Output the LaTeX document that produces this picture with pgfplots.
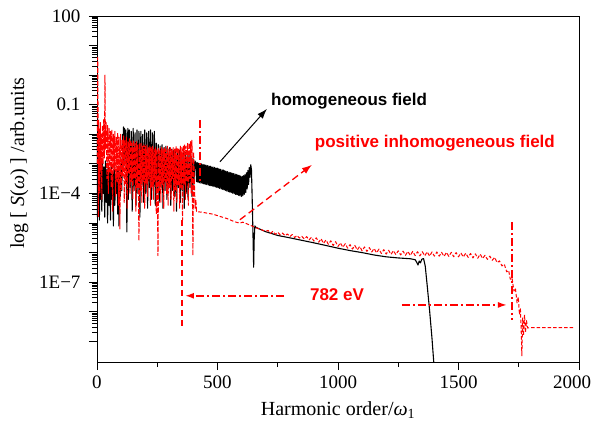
\documentclass[border=0pt]{standalone}
\usepackage{fontspec}
\setmainfont{Liberation Serif}
\newfontfamily\arialfont{Liberation Sans}
\usepackage{pgfplots}
\pgfplotsset{compat=1.18}
\usetikzlibrary{arrows.meta}
\definecolor{myred}{RGB}{255,0,0}
\begin{document}
\begin{tikzpicture}
\path[use as bounding box] (-97pt,-64pt) rectangle (497pt,362pt);
\begin{axis}[
  at={(0pt,0pt)}, anchor=south west,
  scale only axis, width=482pt, height=346pt,
  xmin=0, xmax=2000, ymin=2e-10, ymax=100,
  ymode=log,
  axis line style={line width=0.9pt},
  tick align=outside,
  xtick pos=left, ytick pos=left,
  xtick={0,500,1000,1500,2000},
  xticklabels={0,500,1000,1500,2000\hspace*{14pt}},
  minor xtick={250,750,1250,1750},
  ytickten={-9,...,2},
  yticklabels={,,1E−7,,,1E−4,,,0.1,,,100},
  major tick length=8pt, minor tick length=4.5pt,
  tick style={line width=0.8pt, black},
  tick label style={font=\fontsize{19}{21}\selectfont},
  yticklabel style={xshift=-5pt},
  xticklabel style={yshift=-2pt},
  xlabel={Harmonic order/\textit{ω}\textsubscript{1}},
  ylabel={log [ \textit{S}(\textit{ω}) ] /arb.units},
  label style={font=\fontsize{20}{22}\selectfont},
  xlabel style={at={(axis description cs:0.5,-0.139)}, anchor=center},
  ylabel style={at={(axis description cs:-0.161,0.575)}, anchor=center},
]
% homogeneous field
\addplot[black, line width=1.1pt, line join=round] coordinates {
(0,1e-2)(2,1.58e-5)(4,5.01e-3)(6,3.16e-5)(8,2.51e-3)(10,1.26e-5)(12,1.26e-3)(14,6.31e-5)(17,1e-3)(20,2.51e-5)(23,1.26e-3)(26,1e-4)(29,7.94e-4)(32,1.58e-5)(35,1.26e-3)(38,5.01e-5)(41,6.31e-4)(44,1e-5)(47,1e-3)(50,3.98e-5)(53,5.01e-4)(56,1.26e-5)(59,7.94e-4)(62,6.31e-5)(65,5.01e-4)(68,7.94e-6)(71,1e-3)(74,3.98e-5)(77,3.98e-4)(80,1e-4)(83,6.31e-4)(86,2e-5)(89,7.94e-4)(91,7.94e-6)(94,5.01e-4)(97,7.94e-5)(100,1.26e-3)(103,1.26e-4)(106,1e-2)(108,6.31e-4)(110,1.78e-2)(112,1e-3)(114,1.58e-2)(117,1.58e-3)(120,1.41e-2)(122,3.16e-4)(124,5.01e-6)(126,1.26e-3)(128,1.58e-2)
(130,6.31e-5)(134,1.41e-2)(138,1.58e-4)(142,1.26e-2)(146,2.51e-5)(150,1.58e-2)(154,1.26e-4)(158,1.12e-2)(162,3.98e-5)(166,1.41e-2)(170,1e-4)(174,1.26e-2)(178,1.58e-5)(182,1.26e-2)(186,2e-4)(190,1e-2)(194,5.01e-5)(198,1.41e-2)(202,1e-4)(206,1.12e-2)(210,3.16e-5)(214,1.26e-2)(218,1.58e-4)(222,1.41e-2)(226,6.31e-5)(230,1.12e-2)(234,1.26e-4)(238,1.26e-2)(242,3.98e-5)(246,5.01e-3)
(250,1.26e-4)(254,4.47e-3)(258,5.01e-5)(262,3.98e-3)(266,1.58e-4)(270,4.47e-3)(274,3.16e-5)(278,3.55e-3)(282,1.26e-4)(286,3.98e-3)(290,6.31e-5)(294,3.16e-3)(298,2e-4)(302,3.55e-3)(306,3.98e-5)(310,3.16e-3)(314,1.26e-4)(318,2.82e-3)(322,7.94e-5)(326,3.16e-3)(330,2.51e-5)(334,2.51e-3)(338,1.58e-4)(342,2.82e-3)(346,5.01e-5)(350,2.51e-3)(354,1.26e-4)(358,2.24e-3)(362,3.16e-5)(366,2.51e-3)(370,1e-4)(374,2e-3)(378,6.31e-5)(382,2e-3)(386,1.58e-4)(390,1.78e-3)(394,7.94e-5)(398,1.58e-3)(402,2e-4)(406,1.26e-3)
(410,1.12e-3)(413,2.5e-4)(416,1.1e-3)(419,2.4e-4)(422,1.05e-3)(425,2.3e-4)(428,1.02e-3)(431,2.24e-4)(434,1e-3)(437,2.2e-4)(440,9.5e-4)(443,2.1e-4)(446,9.3e-4)(449,2.05e-4)(452,9.1e-4)(455,2e-4)(458,8.7e-4)(461,1.95e-4)(464,8.5e-4)(467,1.86e-4)(470,8.3e-4)(473,1.8e-4)(476,7.9e-4)(479,1.78e-4)(482,7.8e-4)(485,1.7e-4)(488,7.6e-4)(491,1.66e-4)(494,7.2e-4)(497,1.62e-4)(500,7.1e-4)(503,1.55e-4)(506,6.8e-4)(509,1.48e-4)(512,6.6e-4)(515,1.41e-4)(518,6.3e-4)(521,1.38e-4)(524,6.2e-4)(527,1.32e-4)(530,5.9e-4)(533,1.26e-4)(536,5.6e-4)(539,1.2e-4)(542,5.5e-4)(545,1.15e-4)(548,5.2e-4)(551,1.12e-4)(554,5e-4)(557,1.07e-4)(560,4.9e-4)(563,1.02e-4)(566,4.7e-4)(569,9.8e-5)(572,4.6e-4)(575,9.3e-5)(578,4.4e-4)(581,9.1e-5)(584,4.2e-4)(587,8.7e-5)(590,4.1e-4)(593,8.3e-5)(596,3.9e-4)(599,7.9e-5)(602,3.8e-4)(605,8.3e-5)(608,4e-4)(611,9.3e-5)(614,4.3e-4)(617,1.07e-4)(620,5e-4)(623,1.41e-4)(626,6e-4)(629,2e-4)(632,7.6e-4)(635,3.5e-4)(638,9.3e-4)(641,6.3e-4)(644,6.3e-5)(647,5e-6)(650,3.2e-7)(652,2.5e-6)(655,8e-6)(660,7.1e-6)(680,6e-6)(700,5.1e-6)(750,3.8e-6)(800,3.16e-6)(850,2.6e-6)(900,2.14e-6)(950,1.74e-6)(1000,1.41e-6)(1050,1.17e-6)(1100,1e-6)(1150,8.3e-7)(1200,7.2e-7)(1250,6.6e-7)(1300,6.2e-7)(1320,5.75e-7)(1326,4.8e-7)(1332,3.8e-7)(1337,5.2e-7)(1342,4.5e-7)(1348,6e-7)(1355,6.3e-7)(1362,3.5e-7)(1370,7.9e-8)(1380,1.12e-8)(1390,1.26e-9)(1400,1e-10)
};
% positive inhomogeneous field: noisy low-order part
\addplot[myred, line width=1pt, line join=round, dash pattern=on 5pt off 1.5pt] coordinates {
(1,1e-3)(3,3.98)(5,1e-2)(6,1.58e-5)(7,3.16e-2)(8,3.16e-4)(10,1.58e-2)(12,1e-4)(14,2.51e-2)(16,6.31e-4)(18,1e-2)(20,6.31e-5)(22,2e-2)(25,1e-3)(28,3.16e-2)(31,1.58e-3)(33,1)(35,3.16e-3)(38,2.51e-2)(41,3.16e-4)(44,2e-2)(47,1e-4)(50,1.58e-2)(53,5.01e-4)(56,1.26e-2)(59,1.58e-4)(62,1.41e-2)(65,2.51e-5)(68,1e-2)(71,6.31e-4)(74,1.26e-2)(77,7.94e-5)(80,7.94e-3)(83,2.51e-4)(86,1.12e-2)(89,3.98e-5)(92,7.94e-3)(95,6.31e-6)(98,1e-2)(101,1.26e-4)(104,6.31e-3)(107,3.98e-4)(110,8.91e-3)(113,5.01e-5)(116,6.31e-3)(119,2e-4)(122,7.94e-3)(125,3.16e-5)(128,5.62e-3)(131,5.01e-4)(134,7.08e-3)(137,1e-4)(140,6.31e-3)(143,2.51e-4)(146,5.01e-3)(149,6.31e-5)(152,6.31e-3)(155,3.16e-4)(158,5.01e-3)(161,2.51e-5)(164,5.62e-3)(167,1.58e-4)(170,4.47e-3)(174,2.51e-6)(177,5.01e-3)(180,1.26e-4)(183,5.01e-3)(186,5.01e-5)(189,3.98e-3)(192,2.51e-4)(195,4.47e-3)(198,3.16e-5)(201,3.98e-3)(204,2e-4)(207,4.47e-3)(210,7.94e-5)(213,3.55e-3)(216,3.16e-4)(219,3.98e-3)(222,3.98e-5)(225,3.55e-3)(228,1.58e-4)(231,3.98e-3)(234,6.31e-5)(237,3.16e-3)(240,2.51e-4)(243,3.55e-3)(246,2e-5)(249,3.16e-3)(253,7.94e-7)(256,3.55e-3)(259,1.26e-4)(262,3.16e-3)(265,5.01e-5)(268,3.55e-3)(271,2e-4)(274,3.16e-3)(277,3.16e-5)(280,3.55e-3)(283,2.51e-4)(286,3.16e-3)(289,1e-4)(292,3.98e-3)(295,3.98e-5)(298,3.16e-3)(301,1.58e-4)(304,3.55e-3)(307,6.31e-5)(310,3.16e-3)(313,3.16e-4)(316,3.55e-3)(319,2.51e-5)(322,3.16e-3)(325,1.26e-4)(328,3.98e-3)(331,5.01e-5)(334,3.55e-3)(337,2e-4)(340,3.16e-3)(343,3.16e-5)(346,3.98e-3)(349,1.58e-4)(352,3.55e-3)(355,1.26e-5)(358,3.98e-3)(361,2e-4)(364,4.47e-3)(367,6.31e-5)(370,3.98e-3)(373,2.51e-4)(376,5.01e-3)(379,3.98e-5)(382,5.01e-3)(385,3.16e-4)(388,5.62e-3)(391,1e-4)(394,6.31e-3)(398,7.94e-7)(401,2.51e-3)(404,2.51e-4)(407,3.16e-5)(410,6.31e-5)(413,2.51e-5)(420,2.4e-5)
};
% positive inhomogeneous field: plateau and cutoff
\addplot[myred, line width=1pt, line join=round, dash pattern=on 3.5pt off 2pt] coordinates {
(420,2.4e-5)(440,2.29e-5)(460,2.14e-5)(480,2e-5)(500,1.78e-5)(520,1.58e-5)(540,1.41e-5)(560,1.2e-5)(580,1.05e-5)(593,1e-5)(605,1.07e-5)(620,9.55e-6)(640,8.13e-6)(660,6.92e-6)(680,6.03e-6)(700,5.25e-6)
(710,5.62e-6)(720,4.47e-6)(730,5.25e-6)(740,4.17e-6)(750,4.9e-6)(760,3.98e-6)(770,4.57e-6)(780,3.72e-6)(790,4.27e-6)(800,3.47e-6)(810,4.07e-6)(820,3.24e-6)(830,3.8e-6)(840,3.09e-6)(850,3.55e-6)(860,2.88e-6)(870,3.47e-6)(880,2.69e-6)(890,3.31e-6)(900,2.45e-6)(910,3.16e-6)(920,2.24e-6)(930,2.95e-6)(940,2.04e-6)(950,2.69e-6)(960,1.91e-6)(970,2.51e-6)(980,1.74e-6)(990,2.34e-6)(1000,1.62e-6)(1010,2.14e-6)(1020,1.51e-6)(1030,2e-6)(1040,1.41e-6)(1050,1.86e-6)(1060,1.32e-6)(1070,1.74e-6)(1080,1.23e-6)(1090,1.62e-6)(1100,1.15e-6)(1110,1.55e-6)(1120,1.1e-6)(1130,1.48e-6)(1140,1.05e-6)(1150,1.38e-6)(1160,9.77e-7)(1170,1.32e-6)(1180,9.33e-7)(1190,1.26e-6)(1200,8.91e-7)(1210,1.2e-6)(1220,8.71e-7)(1230,1.17e-6)(1240,8.51e-7)(1250,1.15e-6)(1260,8.32e-7)(1270,1.12e-6)(1280,8.13e-7)(1290,1.1e-6)(1300,7.94e-7)(1310,1.1e-6)(1320,7.94e-7)(1330,1.07e-6)(1340,7.76e-7)(1350,1.07e-6)(1360,7.76e-7)(1370,1.07e-6)(1380,7.59e-7)(1390,1.05e-6)(1400,7.59e-7)(1410,1.05e-6)(1420,7.59e-7)(1430,1.02e-6)(1440,7.41e-7)(1450,1.02e-6)(1460,7.41e-7)(1470,1.02e-6)(1480,7.24e-7)(1490,1e-6)(1500,7.24e-7)(1510,9.77e-7)(1520,7.08e-7)(1530,9.55e-7)(1540,6.92e-7)(1550,9.33e-7)(1560,6.61e-7)(1570,9.12e-7)(1580,6.46e-7)(1590,8.91e-7)(1600,6.31e-7)(1610,8.13e-7)(1620,5.89e-7)(1630,7.59e-7)(1640,5.5e-7)(1650,6.92e-7)(1660,4.57e-7)(1670,5.25e-7)(1680,3.55e-7)(1690,4.07e-7)
(1700,2.24e-7)(1708,2.51e-7)(1715,1.26e-7)(1722,1.41e-7)(1730,5.01e-8)(1736,6.31e-8)(1743,2e-8)(1748,3.16e-8)(1753,7.94e-9)(1757,1.26e-8)(1760,2.51e-9)(1763,3.16e-10)(1766,6.31e-9)(1770,1.58e-9)(1774,7.94e-9)(1778,2e-9)(1782,5.01e-9)(1787,2.82e-9)(1795,2.88e-9)(1983,2.88e-9)
};
% annotations
\addplot[black, line width=1pt, -{Latex[length=10pt,width=7pt]}] coordinates {(510,1.17e-3) (705,7.24e-2)};
\addplot[myred, line width=1.3pt, dash pattern=on 7pt off 4pt, -{Latex[length=10pt,width=7pt]}] coordinates {(593,1.29e-5) (892,9.3e-4)};
\addplot[myred, line width=1.6pt, dash pattern=on 8pt off 3pt on 2pt off 3pt] coordinates {(427,3.1e-2) (427,2.5e-4)};
\addplot[myred, line width=1.6pt, dash pattern=on 6pt off 4pt] coordinates {(353,1.29e-5) (353,3.1e-9)};
\addplot[myred, line width=1.6pt, dash pattern=on 8pt off 3pt on 2pt off 3pt] coordinates {(1722,1.1e-5) (1722,5.4e-9)};
\addplot[myred, line width=1.6pt, dash pattern=on 8pt off 3pt on 2pt off 3pt, -{Latex[length=9pt,width=6pt]}] coordinates {(776,3.47e-8) (365,3.47e-8)};
\addplot[myred, line width=1.6pt, dash pattern=on 8pt off 3pt on 2pt off 3pt, -{Latex[length=9pt,width=6pt]}] coordinates {(1265,1.7e-8) (1701,1.7e-8)};
\node[font=\arialfont\bfseries\fontsize{17}{20}\selectfont, text=black] at (axis cs:1046,1.35e-1) {homogeneous field};
\node[font=\arialfont\bfseries\fontsize{17}{20}\selectfont, text=myred] at (axis cs:1402,5.1e-3) {positive inhomogeneous field};
\node[font=\arialfont\bfseries\fontsize{17}{20}\selectfont, text=myred] at (axis cs:996,3.7e-8) {782 eV};
\end{axis}
\end{tikzpicture}
\end{document}
